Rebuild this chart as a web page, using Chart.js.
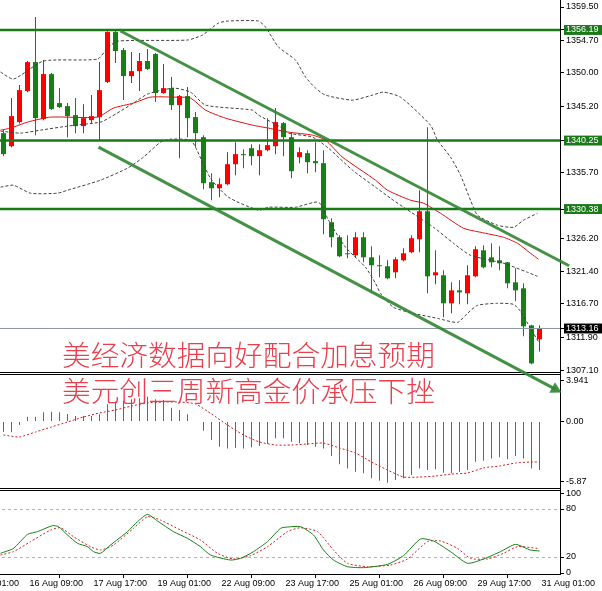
<!DOCTYPE html>
<html lang="zh-CN">
<head>
<meta charset="UTF-8">
<title>XAUUSD H4</title>
<script src="https://cdn.jsdelivr.net/npm/chart.js"></script>
<style>
  html, body { margin: 0; padding: 0; background: #fff; overflow: hidden; }
  #wrap { position: relative; width: 602px; height: 591px; overflow: hidden; }
  #chart { position: absolute; left: -40px; top: 0; }
  .note {
    position: absolute; left: 62px; margin: 0;
    font-family: "Noto Sans CJK SC", sans-serif; font-size: 28.7px; font-weight: 300;
    line-height: 1; color: #e8404c; white-space: nowrap;
  }
</style>
</head>
<body>
<div id="wrap">
  <canvas id="chart" width="642" height="591"></canvas>
  <div class="note" style="top:340px">美经济数据向好配合加息预期</div>
  <div class="note" style="top:376px">美元创三周新高金价承压下挫</div>
</div>
<script>
// H4 candles, one per bar index
const openP  = [1341.32,1339.44,1342.91,1347.38,1351.56,1343.34,1349.83,1345.65,1345.21,1343.92,
                1342.33,1343.19,1343.63,1348.68,1355.89,1353.29,1349.54,1350.26,1351.71,1352.72,
                1347.09,1347.81,1345.36,1346.66,1343.63,1340.74,1334.25,1333.38,1333.96,1336.84,
                1338.29,1339.15,1338.00,1338.86,1339.44,1342.76,1340.74,1337.85,1338.43,1337.28,
                1336.99,1328.48,1326.31,1324.00,1323.71,1326.31,1323.42,1322.27,1322.13,1321.26,
                1322.99,1324.15,1326.02,1330.06,1320.83,1320.83,1316.79,1318.66,1318.23,1320.68,
                1324.43,1323.42,1322.99,1322.70,1319.82,1318.95,1313.61,1311.59];
const highP  = [1341.75,1346.37,1348.24,1351.71,1358.06,1351.85,1349.98,1347.81,1345.65,1346.37,
                1345.50,1346.80,1351.56,1356.00,1356.04,1353.58,1353.01,1352.86,1353.44,1352.86,
                1351.27,1349.40,1346.80,1347.96,1344.35,1341.03,1335.55,1334.82,1338.58,1340.02,
                1339.01,1339.73,1339.73,1343.48,1344.93,1342.91,1341.46,1339.30,1338.86,1340.02,
                1338.86,1329.05,1326.60,1326.60,1327.03,1327.03,1325.01,1323.71,1322.99,1323.42,
                1324.72,1326.60,1333.09,1342.18,1324.43,1321.55,1319.82,1320.11,1322.27,1325.01,
                1325.16,1325.45,1325.01,1322.75,1321.84,1319.67,1313.70,1313.61];
const lowP   = [1338.00,1339.30,1342.70,1347.23,1341.03,1343.19,1344.64,1344.93,1340.74,1341.32,
                1341.32,1342.76,1340.31,1348.53,1351.42,1346.08,1348.53,1347.38,1350.41,1345.79,
                1347.00,1344.64,1337.71,1340.74,1339.30,1333.24,1331.65,1332.08,1333.81,1335.26,
                1336.27,1336.70,1335.26,1338.70,1338.29,1338.00,1334.82,1336.99,1335.55,1335.69,
                1326.74,1324.87,1323.42,1323.28,1323.42,1322.70,1318.23,1320.54,1320.25,1320.39,
                1322.85,1324.00,1324.15,1318.23,1319.53,1314.77,1315.34,1316.64,1316.64,1320.54,
                1321.84,1321.98,1321.55,1318.95,1317.08,1312.03,1308.00,1309.86];
const closeP = [1338.29,1343.77,1347.52,1351.56,1343.48,1349.83,1344.78,1345.07,1343.77,1342.33,
                1343.48,1343.77,1347.52,1355.89,1353.15,1349.54,1350.26,1351.71,1350.55,1347.09,
                1347.81,1345.36,1346.66,1343.48,1341.32,1334.10,1333.38,1333.96,1336.84,1338.29,
                1338.14,1338.00,1338.86,1339.59,1342.91,1340.74,1335.83,1338.58,1337.13,1336.99,
                1328.91,1326.31,1323.57,1323.86,1326.31,1323.42,1322.27,1322.13,1320.39,1323.14,
                1324.00,1326.17,1330.06,1320.68,1321.26,1316.79,1318.66,1318.37,1320.83,1324.58,
                1321.98,1322.70,1322.56,1319.67,1318.66,1313.47,1308.13,1313.16];

// Bollinger bands (dashed) and moving average (red), read at bar positions
const upperAt = [-0.375,1.25,5,11.75,13,14.25,23,24.875,26.875,28.125,31.875,32.75,34.375,36.5,37.75,39,
                 40.25,43.625,46.125,47.5,49.625,53.375,54.25,55.875,57.125,58.375,59.25,61.75,63.75,65,66.75];
const upperBand = [1350.12,1349.11,1351.71,1351.99,1353.58,1354.59,1354.74,1355.46,1357.19,1357.48,1357.48,
                   1356.61,1353.73,1351.85,1349.40,1347.81,1346.80,1346.08,1346.80,1347.23,1346.51,1342.47,
                   1340.31,1337.86,1335.26,1331.65,1329.49,1328.04,1327.75,1328.76,1329.77];
const midAt = [-0.375,2.125,4.625,8,12.125,13.375,16.25,18,21.25,23.375,25.25,31.125,31.875,34.875,35.625,
               38.625,40.625,43.625,46.5,48.375,50,53.75,56.25,58.375,62.5,65.5,66.75];
const midBand = [1341.61,1341.32,1341.75,1342.33,1342.91,1343.63,1345.65,1346.95,1347.81,1347.23,1345.36,
                 1344.64,1343.92,1342.04,1341.32,1340.74,1339.15,1335.98,1333.53,1331.94,1330.64,1327.75,
                 1325.44,1323.71,1322.56,1321.26,1320.68];
const lowerAt = [-0.375,1.25,3.375,6.75,8,12.125,15.5,17.5,19.625,20.875,23.375,24,25.875,28.125,31.875,
                 33.125,36.5,39.375,40.625,42.75,45.25,46.5,47.125,48.75,51.25,54.25,56.75,58,59.25,61.75,
                 63.75,64.625,65.875,67];
const lowerBand = [1333.53,1333.81,1332.66,1332.66,1333.09,1334.54,1336.27,1337.86,1340.02,1340.45,1340.31,
                   1339.30,1334.82,1332.08,1330.21,1330.64,1330.64,1331.36,1328.76,1324.87,1321.98,1319.67,
                   1318.23,1316.21,1315.34,1314.62,1314.04,1315.34,1316.50,1316.79,1316.64,1315.63,1313.18,
                   1311.01];
const maAt = [-0.375,0.875,3,5.875,11.75,13.75,16.25,18.375,21.25,23.375,25.25,27.75,31.125,33.125,35.625,
              38.625,40.25,42.375,46.5,48,50.875,52.5,54.625,57.5,59.625,62.5,64.25,65.875,66.875];
const maLine = [1341.75,1342.04,1342.91,1343.63,1343.63,1344.93,1345.65,1346.51,1346.51,1346.37,1344.64,
                1343.48,1342.47,1342.04,1341.46,1341.03,1340.31,1337.86,1334.54,1333.09,1331.65,1331.22,
                1329.77,1327.61,1327.03,1326.31,1325.44,1324.00,1323.14];

// horizontal levels, last price, channel lines [bar, price]
const levels = [1356.19, 1340.25, 1330.38];
const lastPrice = 1313.16;
const upperTrend = [[14.625, 1356.04], [70.7, 1322.2]];
const lowerTrend = [[11.875, 1339.30], [68.97, 1304.42]];

// MACD
const macdHist = [-0.99,-1.05,-0.34,0.47,0.47,0.89,0.95,0.89,0.73,0.53,
                  0.53,0.53,0.70,1.67,1.93,2.02,2.15,2.25,2.41,2.15,
                  2.09,1.34,1.12,0.70,-0.05,-0.89,-1.80,-2.44,-2.61,-2.54,
                  -2.61,-2.51,-2.38,-2.18,-1.63,-1.63,-1.96,-2.12,-2.28,-2.44,
                  -2.61,-3.35,-4.16,-4.55,-4.87,-5.03,-5.52,-5.74,-5.94,-5.68,
                  -5.52,-5.19,-4.55,-4.71,-4.64,-4.97,-5.03,-4.87,-4.71,-3.90,
                  -3.80,-3.58,-3.48,-3.67,-3.35,-3.58,-4.55,-4.71];
const signalAt = [0,2,4,6,8,10,12,14,16,18,20,22,24,26,28,30,32,34,36,38,40,42,44,46,48,50,52,54,56,58,60,62,64,66,67];
const macdSignal = [-1.31,-1.50,-1.02,-0.53,-0.05,0.44,0.83,1.12,1.50,1.80,1.89,1.89,1.70,0.73,-0.34,-1.31,
                    -1.99,-2.28,-2.28,-2.18,-2.09,-2.57,-3.06,-3.93,-4.71,-5.39,-5.39,-5.29,-5.10,-5.00,
                    -4.51,-4.32,-4.03,-3.93,-3.93];

// Stochastic
const kAt = [-0.375,1.25,3,4.25,6.125,6.875,8,9.25,10.5,11.25,12.125,13.375,15.5,16.75,18,19.25,21.25,23,
             24.625,25.875,28.375,29.625,31.25,33,34.625,35.5,37.125,38.75,40,41.25,43,45,48,50,52.125,
             53.75,55.875,58,60,62.125,64,65.875,67];
const stochK = [24.6,30.8,48.3,51.7,59.2,57.9,47.5,37.1,32.9,26.7,24.6,35.0,51.7,64.2,73.3,65.0,51.7,43.3,
                32.9,22.5,16.2,18.3,26.7,39.2,55.8,57.5,57.9,47.5,28.7,16.2,7.9,6.7,10.8,21.7,42.5,
                40.0,26.7,12.1,17.5,26.7,35.8,28.7,27.5];
const dAt = [-0.375,1.25,3.375,5.875,7.125,8.75,10.875,12.125,13.75,16.25,18,19.625,22.125,24.625,26.75,
             28.75,30.875,33,35.5,37.125,39.25,41.25,43,45.5,48.375,50.5,53,54.625,56.75,58.375,60.5,
             62.5,64.25,66.75];
const stochD = [22.5,26.7,39.2,53.7,56.6,45.4,32.9,28.7,35.0,55.8,70.4,66.2,53.7,41.2,24.6,17.5,21.7,32.9,
                51.7,56.6,51.7,28.7,12.1,7.9,10.0,17.5,39.2,40.0,30.8,18.3,17.5,24.6,32.9,30.8];

// axis ticks
const priceTicks = [1359.50,1354.70,1350.00,1345.20,1335.70,1326.20,1321.40,1316.70,1311.90,1307.10];
const macdTicks = [3.941, 0, -5.87];
const macdTickLabels = ['3.941', '0.00', '-5.87'];
const stochTicks = [100, 80, 20, 0];
const stochLevels = [80, 20];
const timeTickAt = [-5, 3, 11, 19, 27, 35, 43, 51, 59, 67];
const timeTickLabels = ['15 Aug 01:00','16 Aug 09:00','17 Aug 17:00','19 Aug 01:00','22 Aug 09:00',
                        '23 Aug 17:00','25 Aug 01:00','26 Aug 09:00','29 Aug 17:00','31 Aug 01:00'];

const UP = '#ff0000', DOWN = '#168016', HIST = '#2a8f2a', LEVEL = '#1a7a1a', TREND = 'rgba(52,135,52,0.92)';
const X_MIN = -5.4375, X_MAX = 69.5625;
const axisFont = { family: "'Liberation Sans', Arial, sans-serif", size: 9, lineHeight: 1.1 };

const bars = openP.map((o, i) => i);
const candleColor = bars.map(i => closeP[i] >= openP[i] ? UP : DOWN);
const pts = (xs, ys) => xs.map((x, k) => ({ x: x, y: ys[k] }));
const hline = v => [{ x: X_MIN, y: v }, { x: X_MAX, y: v }];

function arrowRotation(ctx) {
  const d = ctx.dataset.data, s = ctx.chart.scales;
  const dx = s.x.getPixelForValue(d[1].x) - s.x.getPixelForValue(d[0].x);
  const dy = s.y.getPixelForValue(d[1].y) - s.y.getPixelForValue(d[0].y);
  return 90 + Math.atan2(dy, dx) * 180 / Math.PI;
}

function lineSet(data, color, dash, axis, order) {
  return { type: 'line', data: data, yAxisID: axis, borderColor: color, borderWidth: 1,
           borderDash: dash, pointRadius: 0, tension: 0.2, order: order };
}

function trendSet(seg) {
  return { type: 'line', data: seg.map(p => ({ x: p[0], y: p[1] })), yAxisID: 'y',
           borderColor: TREND, borderWidth: 3, clip: false, order: 0,
           pointStyle: 'triangle', pointBorderWidth: 0, pointBackgroundColor: TREND,
           pointRadius: ctx => ctx.dataIndex === 1 ? 7 : 0, pointRotation: arrowRotation };
}

const datasets = [
  trendSet(upperTrend),
  trendSet(lowerTrend),
  ...levels.map(v => ({ type: 'line', data: hline(v), yAxisID: 'y', borderColor: LEVEL,
                        borderWidth: 2.5, pointRadius: 0, order: 1 })),
  { type: 'line', data: hline(lastPrice), yAxisID: 'y', borderColor: '#8898a8',
    borderWidth: 1, pointRadius: 0, order: 2 },
  lineSet(pts(maAt, maLine), '#e01010', [], 'y', 3),
  lineSet(pts(upperAt, upperBand), '#404040', [3, 2], 'y', 3),
  lineSet(pts(midAt, midBand), '#404040', [3, 2], 'y', 3),
  lineSet(pts(lowerAt, lowerBand), '#404040', [3, 2], 'y', 3),
  { type: 'bar', data: bars.map(i => ({ x: i, y: [openP[i], closeP[i]] })), yAxisID: 'y',
    backgroundColor: candleColor, barThickness: 5, minBarLength: 1, grouped: false,
    inflateAmount: 0, order: 4 },
  { type: 'bar', data: bars.map(i => ({ x: i, y: [lowP[i], highP[i]] })), yAxisID: 'y',
    backgroundColor: candleColor, barThickness: 1, grouped: false, inflateAmount: 0, order: 5 },
  lineSet(pts(signalAt, macdSignal), '#d02020', [2, 2], 'macd', 5),
  { type: 'bar', data: bars.map(i => ({ x: i, y: macdHist[i] })), yAxisID: 'macd',
    backgroundColor: HIST, barThickness: 1, grouped: false, inflateAmount: 0, order: 6 },
  lineSet(pts(dAt, stochD), '#d02020', [2, 2], 'stoch', 5),
  lineSet(pts(kAt, stochK), '#168016', [], 'stoch', 4)
];

// double lines between the three panes
const paneBorders = {
  id: 'paneBorders',
  beforeDatasetsDraw(chart) {
    const { ctx, chartArea } = chart;
    ctx.save();
    ctx.strokeStyle = '#000';
    ctx.lineWidth = 1;
    ['macd', 'stoch'].forEach(id => {
      const top = Math.round(chart.scales[id].top);
      [top - 1.5, top + 0.5].forEach(y => {
        ctx.beginPath();
        ctx.moveTo(chartArea.left, y);
        ctx.lineTo(chartArea.right, y);
        ctx.stroke();
      });
    });
    ctx.restore();
  }
};

// labels may overhang the plot edges, like in the terminal
function noOverhang(s) {
  s.paddingTop = 0; s.paddingBottom = 0; s.paddingLeft = 0; s.paddingRight = 0;
}

function paneAxis(extra) {
  return Object.assign({
    type: 'linear', position: 'right', stack: 'panes',
    afterFit: s => { s.width = 42; noOverhang(s); },
    border: { display: true, color: '#000', width: 1 },
    grid: { drawOnChartArea: false, drawTicks: true, tickLength: 4, color: '#000' }
  }, extra);
}

const isLevel = v => levels.includes(v) || v === lastPrice;

new Chart(document.getElementById('chart'), {
  type: 'line',
  data: { datasets: datasets },
  plugins: [paneBorders],
  options: {
    responsive: false,
    devicePixelRatio: 1,
    animation: false,
    events: [],
    layout: { padding: 0, autoPadding: false },
    plugins: { legend: { display: false }, tooltip: { enabled: false } },
    scales: {
      x: {
        type: 'linear', position: 'bottom', min: X_MIN, max: X_MAX, offset: false,
        afterBuildTicks: s => { s.ticks = timeTickAt.map(v => ({ value: v })); },
        afterFit: s => { s.height = 17; noOverhang(s); },
        border: { display: true, color: '#000', width: 1 },
        grid: { drawOnChartArea: false, drawTicks: true, tickLength: 4, color: '#000' },
        ticks: {
          autoSkip: false, maxRotation: 0, align: 'start', labelOffset: 2, padding: 1,
          color: '#000', font: axisFont,
          callback: v => timeTickLabels[timeTickAt.indexOf(v)]
        }
      },
      y: paneAxis({
        weight: 1, stackWeight: 374, min: 1306.60, max: 1360.51,
        afterBuildTicks: s => {
          s.ticks = priceTicks.concat(levels, [lastPrice]).map(v => ({ value: v }));
        },
        ticks: {
          autoSkip: false, padding: 2, font: axisFont,
          color: ctx => isLevel(ctx.tick.value) ? '#fff' : '#000',
          showLabelBackdrop: ctx => isLevel(ctx.tick.value),
          backdropColor: ctx => ctx.tick.value === lastPrice ? '#000' : LEVEL,
          backdropPadding: { top: 0, bottom: 0, left: 2, right: 5 },
          callback: v => v.toFixed(2)
        }
      }),
      macd: paneAxis({
        weight: 2, stackWeight: 115.5, min: -6.60, max: 4.61,
        afterBuildTicks: s => { s.ticks = macdTicks.map(v => ({ value: v })); },
        ticks: {
          autoSkip: false, padding: 2, font: axisFont, color: '#000',
          callback: v => macdTickLabels[macdTicks.indexOf(v)]
        }
      }),
      stoch: paneAxis({
        weight: 3, stackWeight: 84.5, min: -1.25, max: 104.4,
        afterBuildTicks: s => { s.ticks = stochTicks.map(v => ({ value: v })); },
        border: { display: true, color: '#000', width: 1, dash: [3, 3] },
        grid: {
          drawOnChartArea: true, drawTicks: true, tickLength: 4,
          color: ctx => stochLevels.includes(ctx.tick.value) ? '#b4b4b4' : 'rgba(0,0,0,0)',
          tickColor: '#000', tickBorderDash: []
        },
        ticks: { autoSkip: false, padding: 2, font: axisFont, color: '#000' }
      })
    }
  }
});
</script>
</body>
</html>
